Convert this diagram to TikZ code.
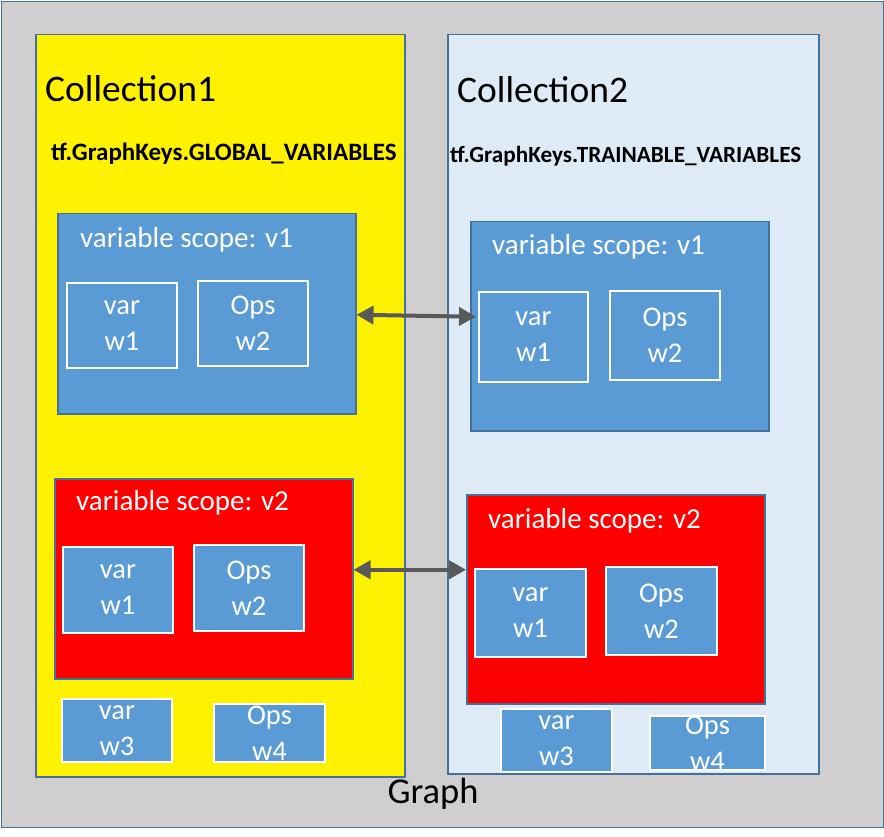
\documentclass[tikz,border=0pt]{standalone}
\usepackage{fontspec}
\setmainfont{Carlito}
\usetikzlibrary{positioning, arrows.meta}
\definecolor{graphgray}{RGB}{208,206,206}
\definecolor{edgeblue}{RGB}{65,113,156}
\definecolor{scopeblue}{RGB}{91,155,213}
\definecolor{paleblue}{RGB}{222,235,247}
\definecolor{arrowgray}{RGB}{89,89,89}
\newcommand{\fsz}[1]{\fontsize{#1}{#1}\selectfont}

\begin{document}
\begin{tikzpicture}[x=1pt, y=-1pt,
    panel/.style={rectangle, draw=edgeblue, line width=1.5pt, anchor=north west, inner sep=0pt},
    item/.style={rectangle, draw=white, fill=scopeblue, line width=2pt, anchor=north west,
                 inner sep=0pt, text=white, align=center, font=\fontsize{28.5}{36}\selectfont},
    scopetitle/.style={anchor=west, inner sep=0pt, text=white, font=\fsz{29}},
    link/.style={{Triangle[length=17pt,width=18pt]}-{Triangle[length=17pt,width=18pt]}, arrowgray, line width=4pt}]
        \useasboundingbox (0,0) rectangle (884,837);
        % outer graph and the two collections
        \node[panel, fill=graphgray, minimum width=882pt, minimum height=826pt] (graph) at (0.75,0.75) {};
        \node[panel, fill=yellow, minimum width=369pt, minimum height=742pt] (coll1) at (35,34) {};
        \node[panel, fill=paleblue, minimum width=371pt, minimum height=739pt] (coll2) at (447,34) {};
        \node[anchor=west, inner sep=0pt, font=\fsz{37.5}] (name1) at (45,88.5) {Collection1};
        \node[anchor=west, inner sep=0pt, font=\fsz{37.5}] (name2) at (457,89.5) {Collection2};
        \node[anchor=base west, inner sep=0pt, font=\bfseries\fsz{25}] (key1) at (51,161) {tf.GraphKeys.GLOBAL\_VARIABLES};
        \node[anchor=base west, inner sep=0pt, font=\bfseries\fsz{23.2}] (key2) at (450,163) {tf.GraphKeys.TRAINABLE\_VARIABLES};
        \node[anchor=base, inner sep=0pt, font=\fsz{36.5}] (graphname) at (433,803) {Graph};

        % scope v1
        \node[panel, fill=scopeblue, minimum width=298pt, minimum height=200pt] (s1l) at (57,213) {};
        \node[scopetitle] at (80,240) {variable scope: v1};
        \node[item, minimum width=110pt, minimum height=85pt] (l1var) at (66,282) {var\\w1};
        \node[item, minimum width=110pt, minimum height=85pt] (l1ops) at (197,280) {Ops\\w2};
        \node[panel, fill=scopeblue, minimum width=298pt, minimum height=209pt] (s1r) at (470,221) {};
        \node[scopetitle] at (492,247) {variable scope: v1};
        \node[item, minimum width=109pt, minimum height=90pt] (r1var) at (478,291) {var\\w1};
        \node[item, minimum width=110pt, minimum height=89pt] (r1ops) at (609,290) {Ops\\w2};

        % scope v2
        \node[panel, fill=red, minimum width=298pt, minimum height=200pt] (s2l) at (54,478) {};
        \node[scopetitle] at (76,503) {variable scope: v2};
        \node[item, minimum width=110pt, minimum height=86pt] (l2var) at (62,546) {var\\w1};
        \node[item, minimum width=110pt, minimum height=86pt] (l2ops) at (193,544) {Ops\\w2};
        \node[panel, fill=red, minimum width=298pt, minimum height=209pt] (s2r) at (466,494) {};
        \node[scopetitle] at (488,521) {variable scope: v2};
        \node[item, minimum width=111pt, minimum height=88pt] (r2var) at (474,568) {var\\w1};
        \node[item, minimum width=111pt, minimum height=88pt] (r2ops) at (605,566) {Ops\\w2};

        % loose variables
        \node[item, minimum width=110pt, minimum height=63pt] (l3var) at (61,698) {var\\w3};
        \node[item, minimum width=111pt, minimum height=58pt] (l3ops) at (213,703) {Ops\\w4};
        \node[item, minimum width=111pt, minimum height=63pt] (r3var) at (500,708) {var\\w3};
        \node[item, minimum width=115pt, minimum height=54pt] (r3ops) at (649,715) {Ops\\w4};

        \draw[link] ([yshift=-1pt]s1l.east) -- ([xshift=6pt, yshift=9.5pt]s1r.west);
        \draw[link] ([yshift=9pt]s2l.east) -- ([yshift=29.5pt]s2r.west);
\end{tikzpicture}
\end{document}
